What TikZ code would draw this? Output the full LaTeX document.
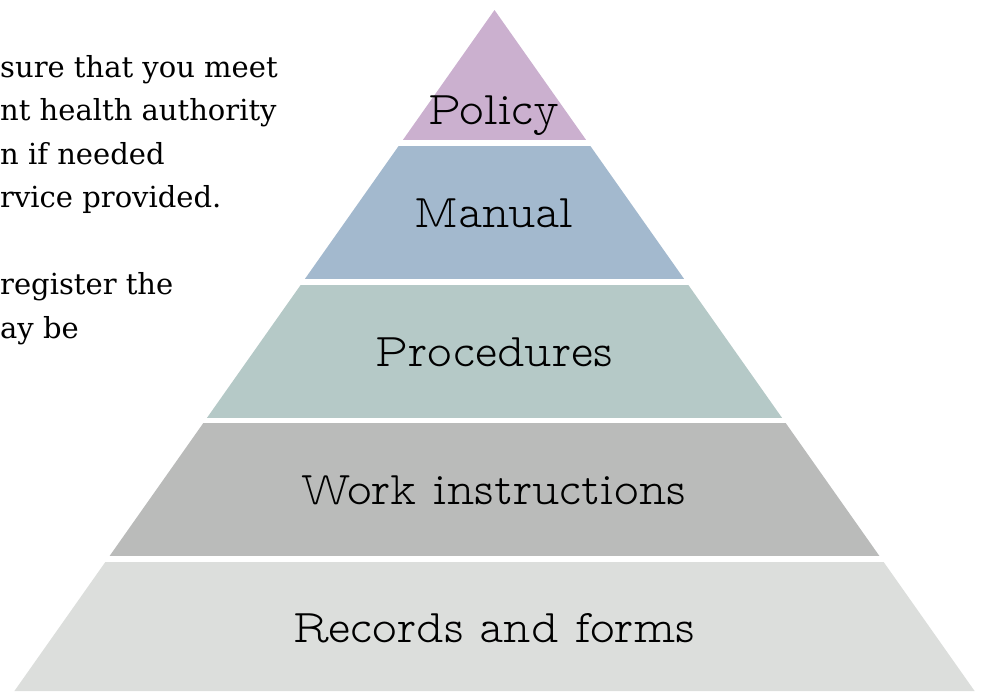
\documentclass[tikz,border=0pt]{standalone}
\usepackage{fontspec}
\setmainfont{DejaVu Serif}
\newfontfamily\labelfont{lmmonoproplt10-regular.otf}
\definecolor{policyc}{RGB}{203,176,207}
\definecolor{manualc}{RGB}{163,185,206}
\definecolor{procc}{RGB}{181,201,199}
\definecolor{workc}{RGB}{186,187,186}
\definecolor{recc}{RGB}{220,222,220}
\tikzset{
  lbl/.style={font=\labelfont\fontsize{47}{56}\selectfont, inner sep=0pt, anchor=base, text=black},
  bodytext/.style={font=\fontsize{29}{35}\selectfont, inner sep=0pt, anchor=base west, text=black}
}
\begin{document}
\begin{tikzpicture}[x=1pt,y=-1pt]
\useasboundingbox (0,0) rectangle (984,691);
\begin{scope}
  \clip (494.5,10) -- (974.6,691) -- (14.4,691) -- cycle;
  \fill[policyc] (0,0) rectangle (984,140);
  \fill[manualc] (0,146) rectangle (984,279);
  \fill[procc] (0,285) rectangle (984,418);
  \fill[workc] (0,423) rectangle (984,556);
  \fill[recc] (0,562) rectangle (984,692);
\end{scope}
\node[lbl] (policy) at (494,124) {Policy};
\node[lbl] (manual) at (494,227) {Manual};
\node[lbl] (proc) at (494,366) {Procedures};
\node[lbl] (work) at (494,504) {Work instructions};
\node[lbl] (rec) at (494,642) {Records and forms};
\node[bodytext] (t1) at (0,77) {sure that you meet};
\node[bodytext] (t2) at (0,120.5) {nt health authority};
\node[bodytext] (t3) at (0,164) {n if needed};
\node[bodytext] (t4) at (0,207.5) {rvice provided.};
\node[bodytext] (t5) at (0,294.5) {register the};
\node[bodytext] (t6) at (0,338) {ay be};
\end{tikzpicture}
\end{document}
